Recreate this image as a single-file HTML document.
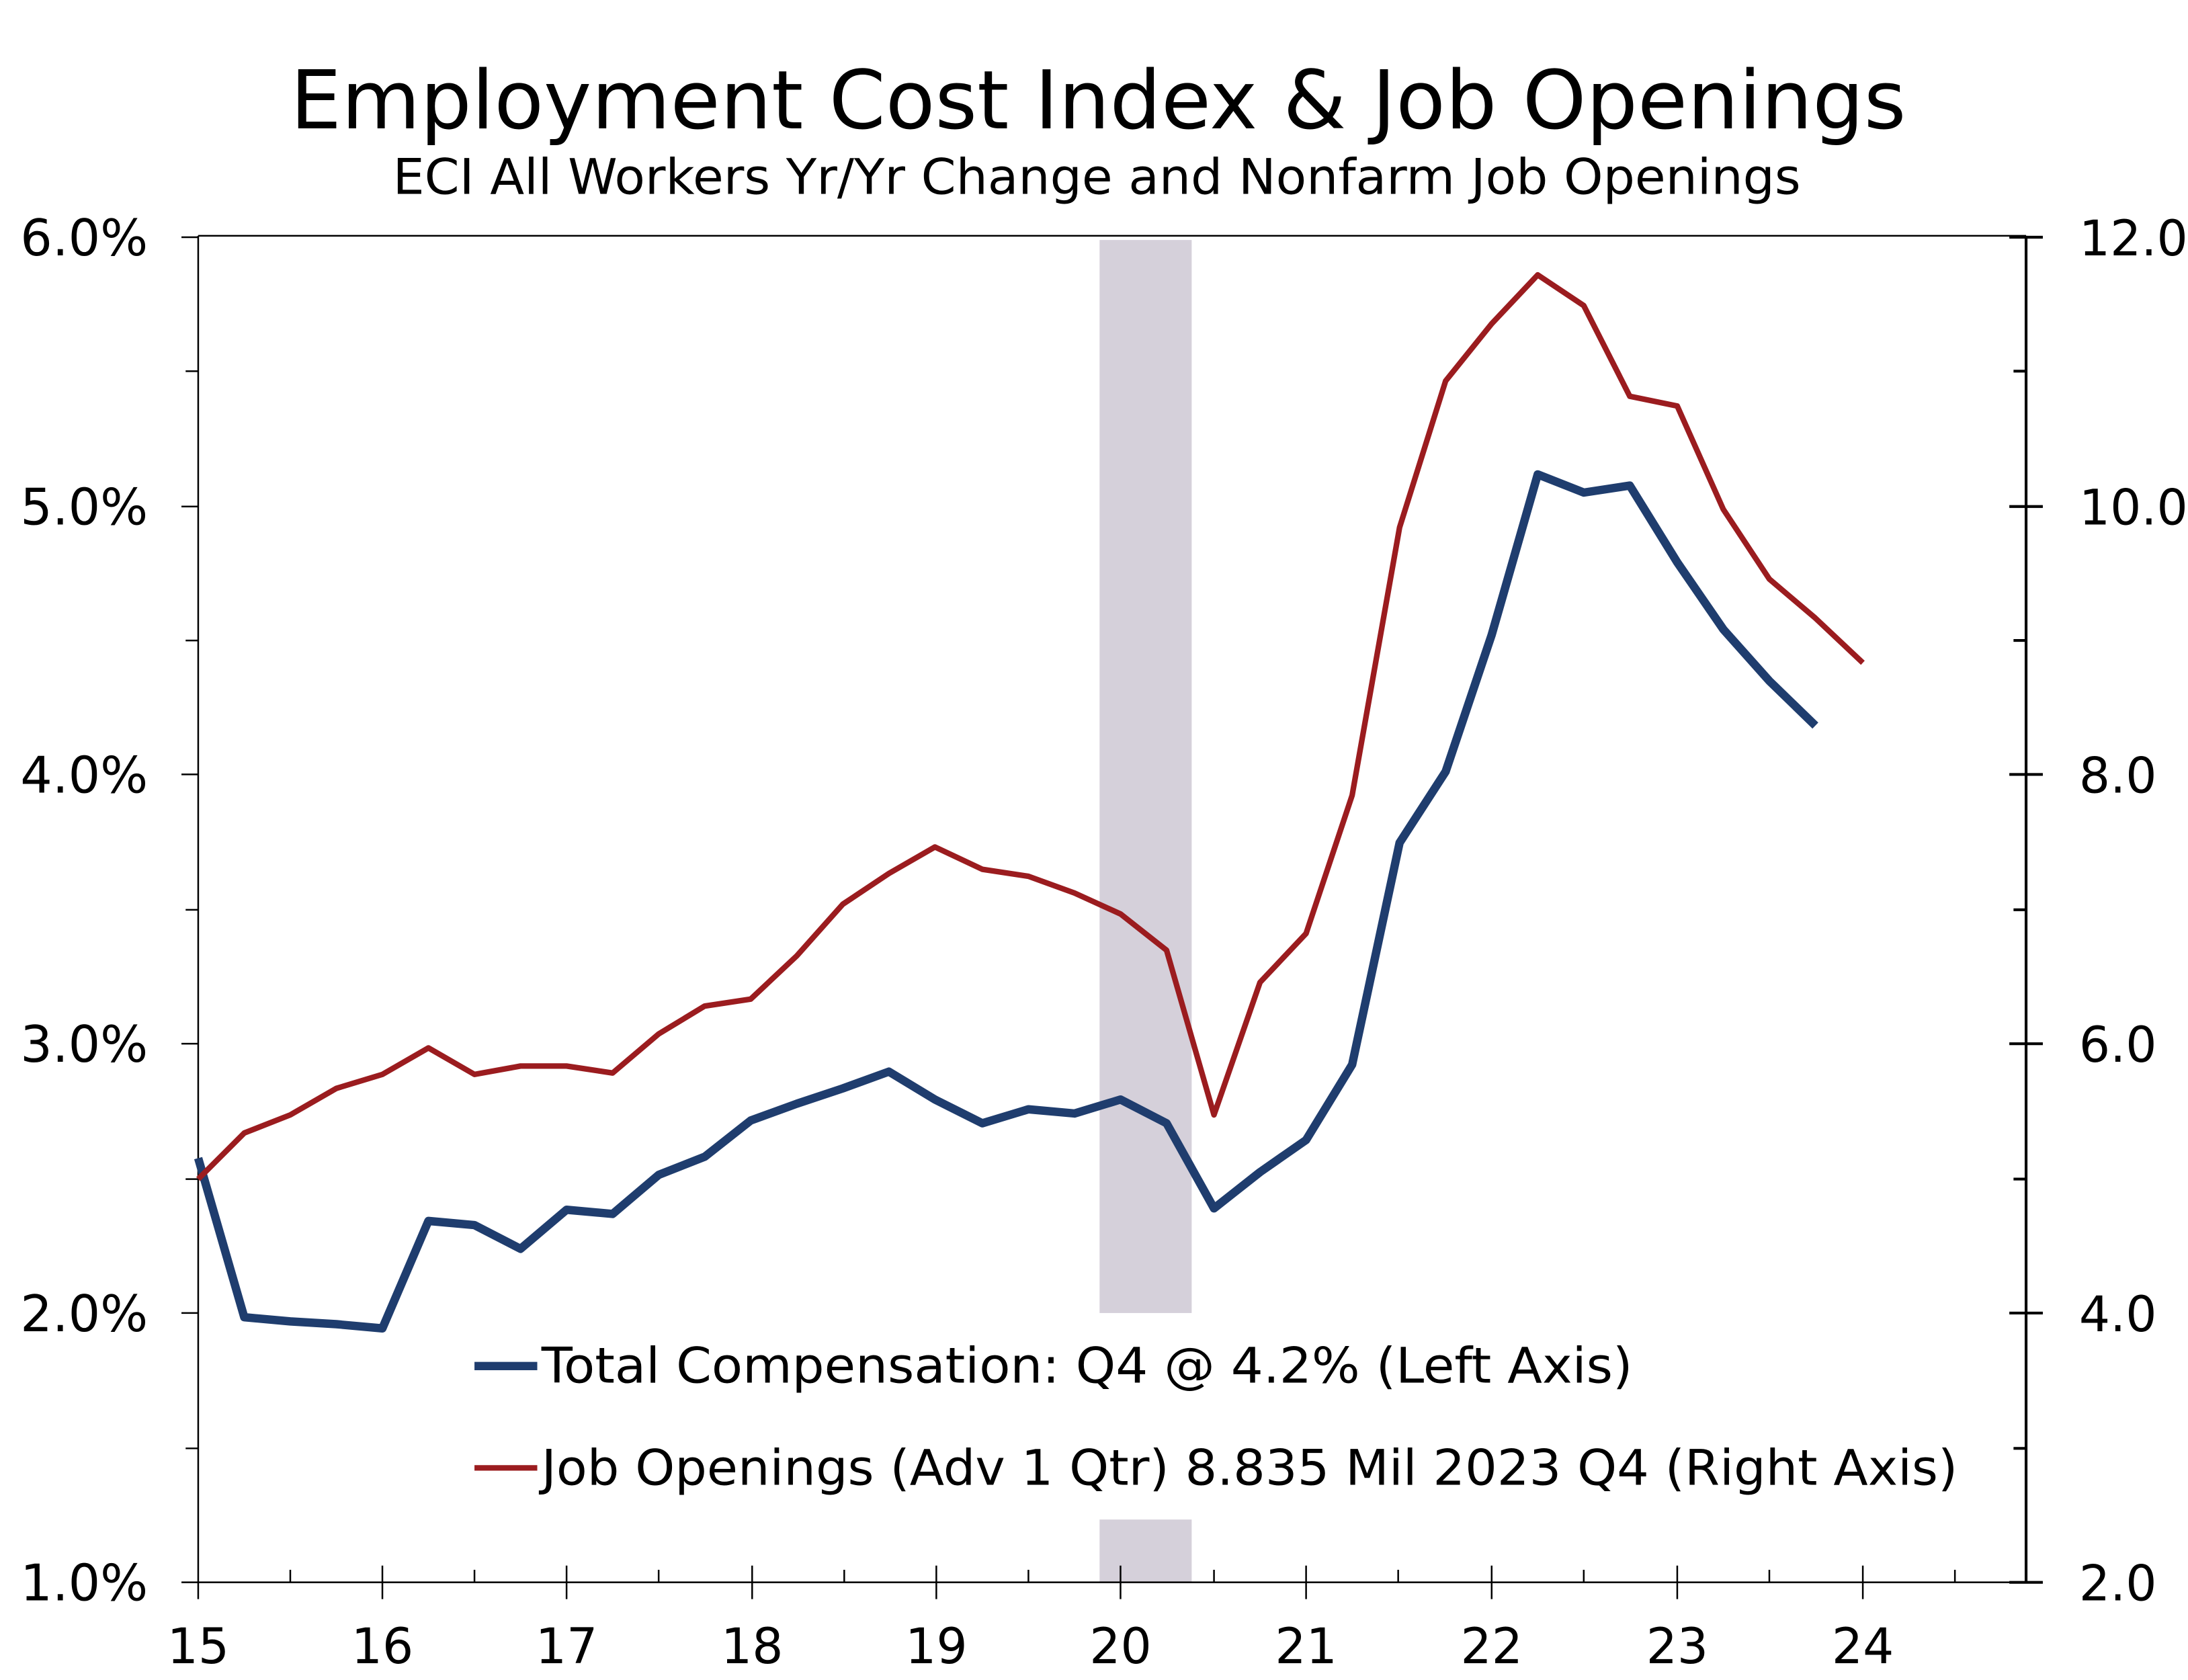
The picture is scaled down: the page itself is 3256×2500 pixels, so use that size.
<!DOCTYPE html>
<html><head><meta charset="utf-8"><style>
html,body{margin:0;padding:0;background:#fff}
svg{display:block}
text{font-family:"DejaVu Sans","Liberation Sans",sans-serif;fill:#000}
</style></head><body>
<svg width="3256" height="2500" viewBox="0 0 1568 1204" xmlns="http://www.w3.org/2000/svg">
<text x="787" y="92" font-size="58" text-anchor="middle" textLength="1158" lengthAdjust="spacingAndGlyphs">Employment Cost Index &amp; Job Openings</text>
<text x="786" y="139" font-size="35" text-anchor="middle" textLength="1009" lengthAdjust="spacingAndGlyphs">ECI All Workers Yr/Yr Change and Nonfarm Job Openings</text>
<rect x="788" y="172" width="66" height="769" fill="#d5d0da"/>
<rect x="788" y="1089" width="66" height="45" fill="#d5d0da"/>
<g stroke="#000" stroke-width="1.2" fill="none">
<line x1="142" y1="169" x2="1452" y2="169"/>
<line x1="142" y1="169" x2="142" y2="1146"/>
<line x1="130" y1="1134" x2="1452" y2="1134"/>
<line x1="1452" y1="169" x2="1452" y2="1134" stroke-width="2"/>
<path d="M130 170H142M130 363H142M130 555H142M130 748H142M130 941H142M133 266H142M133 459H142M133 652H142M133 845H142M133 1038H142"/>
<path d="M1440 170H1464M1440 363H1464M1440 555H1464M1440 748H1464M1440 941H1464M1440 1134H1464M1443 266H1452M1443 459H1452M1443 652H1452M1443 845H1452M1443 1038H1452" stroke-width="2"/>
<path d="M274 1122V1146M406 1122V1146M539 1122V1146M671 1122V1146M803 1122V1146M936 1122V1146M1069 1122V1146M1202 1122V1146M1335 1122V1146M208 1125V1134M340 1125V1134M472 1125V1134M605 1125V1134M737 1125V1134M870 1125V1134M1002 1125V1134M1135 1125V1134M1268 1125V1134M1401 1125V1134"/>
</g>
<g font-size="36" text-anchor="end">
<text x="106" y="183">6.0%</text><text x="106" y="376">5.0%</text><text x="106" y="568">4.0%</text><text x="106" y="761">3.0%</text><text x="106" y="954">2.0%</text><text x="106" y="1147">1.0%</text>
</g>
<g font-size="35">
<text x="1490" y="183">12.0</text><text x="1490" y="376">10.0</text><text x="1490" y="568">8.0</text><text x="1490" y="761">6.0</text><text x="1490" y="954">4.0</text><text x="1490" y="1147">2.0</text>
</g>
<g font-size="35" text-anchor="middle">
<text x="142" y="1192">15</text><text x="274" y="1192">16</text><text x="406" y="1192">17</text><text x="539" y="1192">18</text><text x="671" y="1192">19</text><text x="803" y="1192">20</text><text x="936" y="1192">21</text><text x="1069" y="1192">22</text><text x="1202" y="1192">23</text><text x="1335" y="1192">24</text>
</g>
<polyline fill="none" stroke="#1f3d6e" stroke-width="6" stroke-linejoin="round" points="142,830 175,944 208,947 241,949 274,952 307,875 340,878 373,895 406,867 439,870 472,842 505,829 538,803 571,791 604,780 637,768 670,788 704,805 737,795 770,798 803,788 836,805 870,866 903,840 936,817 969,763 1003,604 1036,553 1069,455 1102,340 1135,353 1168,348 1202,403 1235,451 1268,488 1301,520"/>
<polyline fill="none" stroke="#9b1c1f" stroke-width="4" stroke-linejoin="round" points="142,845 175,812 208,799 241,780 274,770 307,751 340,770 373,764 406,764 439,769 472,741 505,721 538,716 571,685 604,648 637,626 670,607 704,623 737,628 770,640 803,655 836,681 870,799 903,704 936,669 969,570 1003,378 1036,273 1069,232 1102,197 1135,219 1168,284 1202,291 1235,365 1268,415 1301,443 1335,475"/>
<line x1="340" y1="979" x2="385" y2="979" stroke="#1f3d6e" stroke-width="6"/>
<line x1="340" y1="1052" x2="385" y2="1052" stroke="#9b1c1f" stroke-width="4"/>
<text x="388" y="991" font-size="35" textLength="782" lengthAdjust="spacingAndGlyphs">Total Compensation: Q4 @ 4.2% (Left Axis)</text>
<text x="388" y="1064" font-size="35" textLength="1015" lengthAdjust="spacingAndGlyphs">Job Openings (Adv 1 Qtr) 8.835 Mil 2023 Q4 (Right Axis)</text>
</svg>
</body></html>
